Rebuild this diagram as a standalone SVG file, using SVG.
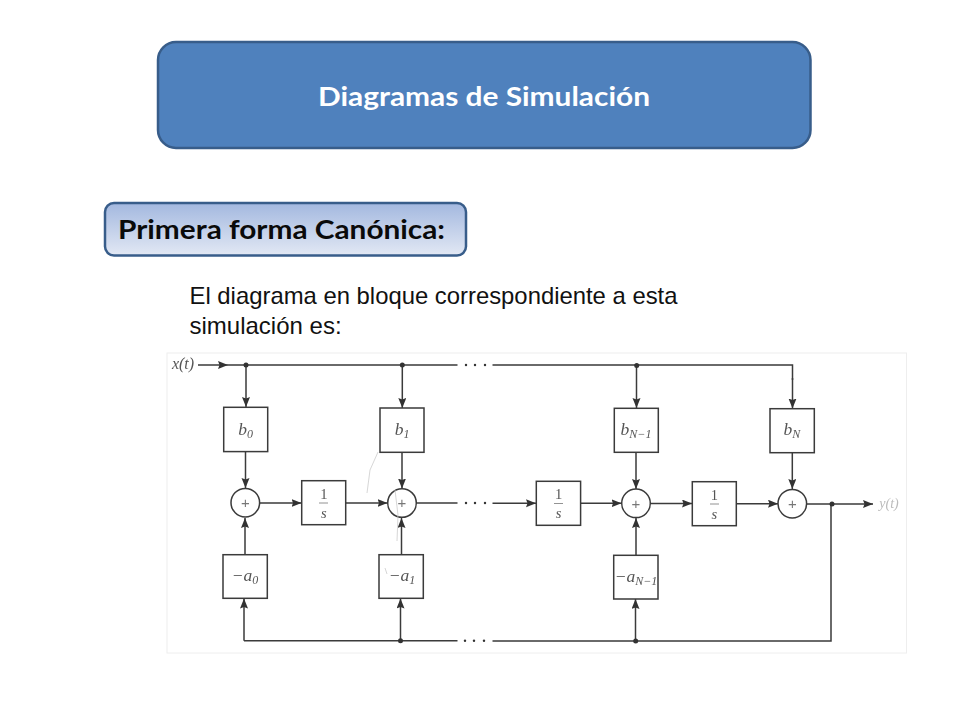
<svg xmlns="http://www.w3.org/2000/svg" width="960" height="720" viewBox="0 0 960 720">
<style>
.head{font-family:"Lato","Open Sans",sans-serif;font-weight:700}
.body{font-family:"Liberation Sans",Arial,sans-serif;font-size:24px;fill:#111}
.block{fill:#fff;stroke:#3a3a3a;stroke-width:1.5}
.sum{fill:#fff;stroke:#3a3a3a;stroke-width:1.5}
.wire{fill:none;stroke:#3a3a3a;stroke-width:1.5}
.arrow{marker-end:url(#head)}
.dot{fill:#333;stroke:none}
.math{font-family:"Liberation Serif","Times New Roman",serif;font-style:italic;font-size:17.500px;fill:#555;text-anchor:middle}
.frac{font-size:14.500px}
.sub{font-size:12px}
.up{font-style:normal}
.plus{font-family:"Liberation Sans",Arial,sans-serif;font-size:15px;fill:#777;text-anchor:middle}
.bar{stroke:#777;stroke-width:.8}
.scratch{fill:none;stroke:#ccc;stroke-width:.8}
</style>
<defs>
<linearGradient id="sub" x1="0" y1="0" x2="0" y2="1"><stop offset="0" stop-color="#a3b8df"/><stop offset="1" stop-color="#e2e8f4"/></linearGradient>
<marker id="head" markerUnits="userSpaceOnUse" markerWidth="11" markerHeight="9" refX="10" refY="4" orient="auto"><path d="M0 0L10 4L0 8L1.500 4Z" fill="#333"/></marker>
<filter id="soft" x="-2%" y="-2%" width="104%" height="104%"><feGaussianBlur stdDeviation=".4"/></filter>
</defs>
<rect width="960" height="720" fill="#fff"/>
<g id="title"><rect x="158" y="42" width="652.500" height="106" rx="18" fill="#4f81bd" stroke="#385d8a" stroke-width="2.500"/>
<text x="484" y="106" class="head" font-size="27.500" fill="#fff" text-anchor="middle" textLength="332" lengthAdjust="spacingAndGlyphs">Diagramas de Simulación</text></g>
<g id="subtitle"><rect x="105" y="203" width="361" height="52.500" rx="9" fill="url(#sub)" stroke="#385d8a" stroke-width="2.500"/>
<text x="118" y="239" class="head" font-size="26.500" fill="#0a0a0a" textLength="327" lengthAdjust="spacingAndGlyphs">Primera forma Canónica:</text></g>
<g id="caption"><text class="body" x="189.500" y="304.300" textLength="488" lengthAdjust="spacingAndGlyphs">El diagrama en bloque correspondiente a esta</text><text class="body" x="189.500" y="334">simulación es:</text></g>
<rect x="167" y="353" width="739.500" height="300" fill="#fff" stroke="#eee" stroke-width="1"/>
<g filter="url(#soft)">
<g id="connectors">
<path class="wire arrow" d="M198 365H228"/>
<path class="wire" d="M228 365H457.500M492.500 365H792.500V380"/>
<path class="wire arrow" d="M246 365V407"/><path class="wire arrow" d="M402.300 365V408"/><path class="wire arrow" d="M636.500 365V408"/><path class="wire arrow" d="M792.500 378V408.500"/>
<path class="wire arrow" d="M245.500 452V488"/><path class="wire arrow" d="M402 452V488.500"/><path class="wire arrow" d="M636 452.500V489"/><path class="wire arrow" d="M792.300 453V489"/>
<path class="wire arrow" d="M260 503H301.500"/><path class="wire arrow" d="M346 503H387.500"/><path class="wire" d="M416.500 503H457.500"/><path class="wire arrow" d="M492.500 503.300H536"/><path class="wire arrow" d="M581 503.300H621.500"/><path class="wire arrow" d="M650.500 503.500H692"/><path class="wire arrow" d="M736.500 503.700H778"/><path class="wire arrow" d="M806.500 504H873"/>
<path class="wire arrow" d="M245 554.500V518"/><path class="wire arrow" d="M401.500 554.500V518"/><path class="wire arrow" d="M636 555V518"/>
<path class="wire arrow" d="M244 640.700V598.500"/><path class="wire arrow" d="M400.500 640.700V598.500"/><path class="wire arrow" d="M635.500 640.700V599"/>
<path class="wire" d="M244 640.700H457.500M492.500 641H831V504"/>
<circle class="dot" cx="246" cy="365" r="2.500"/><circle class="dot" cx="402.300" cy="365" r="2.500"/><circle class="dot" cx="636.700" cy="365.500" r="2.500"/><circle class="dot" cx="832" cy="504" r="2.500"/><circle class="dot" cx="400.500" cy="640.700" r="2.500"/><circle class="dot" cx="635.700" cy="641" r="2.500"/>
<g class="dot"><circle cx="466" cy="365" r="1.200"/><circle cx="475" cy="365" r="1.200"/><circle cx="485" cy="365" r="1.200"/><circle cx="466" cy="503" r="1.200"/><circle cx="475" cy="503" r="1.200"/><circle cx="485" cy="503" r="1.200"/><circle cx="465" cy="640.700" r="1.200"/><circle cx="474" cy="640.700" r="1.200"/><circle cx="484" cy="640.700" r="1.200"/></g>
</g>
<g id="b0"><rect class="block" x="223.700" y="407.300" width="44" height="44.300"/><text class="math" x="245.500" y="435">b<tspan class="sub" dy="3">0</tspan></text></g>
<g id="b1"><rect class="block" x="380" y="408" width="44" height="44.300"/><text class="math" x="402" y="435">b<tspan class="sub" dy="3">1</tspan></text></g>
<g id="bN-1"><rect class="block" x="614.300" y="408.300" width="44" height="44"/><text class="math" x="636" y="435">b<tspan class="sub" dy="3">N−1</tspan></text></g>
<g id="bN"><rect class="block" x="770" y="408.700" width="44.300" height="44"/><text class="math" x="792" y="435">b<tspan class="sub" dy="3">N</tspan></text></g>
<g id="sum0"><circle class="sum" cx="245.300" cy="502.700" r="14.300"/><text class="plus" x="245.300" y="508">+</text></g>
<g id="sum1"><circle class="sum" cx="402" cy="503" r="14.300"/><text class="plus" x="402" y="508">+</text></g>
<g id="sumN-1"><circle class="sum" cx="636" cy="503.300" r="14.300"/><text class="plus" x="636" y="508.500">+</text></g>
<g id="sumN"><circle class="sum" cx="792.300" cy="503.700" r="14.300"/><text class="plus" x="792.300" y="509">+</text></g>
<g id="int1"><rect class="block" x="301.700" y="480.700" width="44" height="44"/><text class="math up frac" x="323.800" y="498.500">1</text><line class="bar" x1="319" y1="503" x2="328" y2="503"/><text class="math frac" x="323.800" y="517.500">s</text></g>
<g id="int2"><rect class="block" x="536.300" y="481.300" width="44.300" height="44"/><text class="math up frac" x="558.500" y="499">1</text><line class="bar" x1="554" y1="503.500" x2="563" y2="503.500"/><text class="math frac" x="558.500" y="518">s</text></g>
<g id="int3"><rect class="block" x="692.300" y="481.700" width="44" height="44"/><text class="math up frac" x="714.300" y="499.500">1</text><line class="bar" x1="710" y1="504" x2="719" y2="504"/><text class="math frac" x="714.300" y="518.500">s</text></g>
<g id="a0"><rect class="block" x="223" y="554.700" width="44.300" height="43.600"/><text class="math" x="245" y="581">−a<tspan class="sub" dy="3">0</tspan></text></g>
<g id="a1"><rect class="block" x="379" y="554.700" width="44.300" height="43.600"/><text class="math" x="402" y="581">−a<tspan class="sub" dy="3">1</tspan></text></g>
<g id="aN-1"><rect class="block" x="613.700" y="555.300" width="44.300" height="43.700"/><text class="math" x="636" y="582">−a<tspan class="sub" dy="3">N−1</tspan></text></g>
<text class="math" x="183" y="369" style="font-size:16px">x(t)</text>
<text class="math" x="889" y="508" style="fill:#bbb;font-size:14px">y(t)</text>
<path class="scratch" d="M378 452L370 470L367 493M395 490L398 515L397 541M385 568L387 574"/>
</g>
</svg>
